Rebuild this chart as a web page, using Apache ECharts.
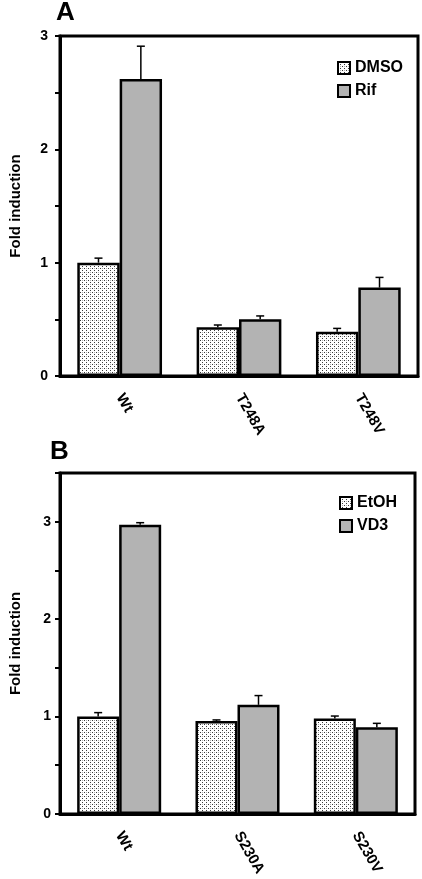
<!DOCTYPE html>
<html>
<head>
<meta charset="utf-8">
<script src="https://cdn.jsdelivr.net/npm/echarts@6/dist/echarts.min.js"></script>
<style>
html,body{margin:0;padding:0;background:#fff;}
#c{width:422px;height:879px;}
</style>
</head>
<body>
<div id="c"></div>
<script>
// ---- Data ----
const categoriesA = ['Wt', 'T248A', 'T248V'];
const dmsoA = [1.00, 0.43, 0.39];
const dmsoErrA = [0.04, 0.02, 0.03];
const rifA = [2.62, 0.50, 0.78];
const rifErrA = [0.29, 0.03, 0.09];

const categoriesB = ['Wt', 'S230A', 'S230V'];
const etohB = [1.00, 0.955, 0.98];
const etohErrB = [0.04, 0.01, 0.025];
const vd3B = [2.97, 1.12, 0.89];
const vd3ErrB = [0.02, 0.095, 0.04];

const yTicksA = [0, 1, 2, 3];
const yTicksB = [0, 1, 2, 3];

// ---- Styling helpers ----
const FONT = '"Liberation Sans", Arial, sans-serif';
const tile = document.createElement('canvas');
tile.width = 4; tile.height = 4;
const tctx = tile.getContext('2d');
tctx.fillStyle = '#ffffff'; tctx.fillRect(0, 0, 4, 4);
tctx.fillStyle = '#3a3a3a'; tctx.fillRect(0, 0, 1, 1); tctx.fillRect(2, 2, 1, 1);
tctx.fillStyle = '#b0b0b0'; tctx.fillRect(2, 0, 1, 1);
const dotted = { image: tile, repeat: 'repeat' };
const grayFill = '#b3b3b3';

function errRender(side) {
  return function (params, api) {
    const c = api.value(0), v = api.value(1), e = api.value(2);
    const band = api.size([1, 0])[0];
    const off = side * band * 0.1775;
    const p0 = api.coord([c, v]);
    const p1 = api.coord([c, v + e]);
    const x = p0[0] + off;
    return {
      type: 'group',
      children: [
        { type: 'line', shape: { x1: x, y1: p0[1], x2: x, y2: p1[1] }, style: { stroke: '#000', lineWidth: 1.5 } },
        { type: 'line', shape: { x1: x - 4, y1: p1[1], x2: x + 4, y2: p1[1] }, style: { stroke: '#000', lineWidth: 1.5 } }
      ]
    };
  };
}
function errData(vals, errs) { return vals.map((v, i) => [i, v, errs[i]]); }

function xAxis(cats, gi) {
  return {
    type: 'category', gridIndex: gi, data: cats,
    axisLine: { lineStyle: { color: '#000', width: 3 } },
    axisTick: { show: false },
    axisLabel: { rotate: -60, margin: 19, color: '#000', fontFamily: FONT, fontWeight: 'bold', fontSize: 15 }
  };
}
function yAxis(max, ticks, gi, margin) {
  return {
    type: 'value', gridIndex: gi, min: 0, max: max, interval: 0.5,
    name: 'Fold induction', nameLocation: 'middle', nameRotate: 90, nameGap: 37,
    nameTextStyle: { color: '#000', fontFamily: FONT, fontWeight: 'bold', fontSize: 15 },
    axisLine: { show: true, lineStyle: { color: '#000', width: 3 } },
    axisTick: { show: true, length: 5, lineStyle: { color: '#000', width: 2 } },
    splitLine: { show: false },
    axisLabel: {
      margin: margin, color: '#000', fontFamily: FONT, fontWeight: 'bold', fontSize: 14,
      formatter: v => (ticks.indexOf(v) >= 0 ? String(v) : '')
    }
  };
}
function barSeries(name, data, color, xi) {
  return {
    type: 'bar', name: name, xAxisIndex: xi, yAxisIndex: xi, data: data,
    barWidth: '35.5%', barGap: '0%',
    itemStyle: { color: color, borderColor: '#000', borderWidth: 2.5 }
  };
}
function errSeries(vals, errs, side, xi) {
  return {
    type: 'custom', xAxisIndex: xi, yAxisIndex: xi, z: 5,
    renderItem: errRender(side), data: errData(vals, errs), silent: true
  };
}
const legendText = { color: '#000', fontFamily: FONT, fontWeight: 'bold', fontSize: 16 };

const chart = echarts.init(document.getElementById('c'), null, { renderer: 'canvas' });
chart.setOption({
  backgroundColor: '#fff',
  animation: false,
  title: [
    { text: 'A', left: 56, top: 0, padding: 0, textStyle: { color: '#000', fontFamily: FONT, fontWeight: 'bold', fontSize: 26 } },
    { text: 'B', left: 50, top: 439, padding: 0, textStyle: { color: '#000', fontFamily: FONT, fontWeight: 'bold', fontSize: 26 } }
  ],
  legend: [
    { data: ['DMSO', 'Rif'], orient: 'vertical', left: 337, top: 60, itemGap: 7, itemWidth: 12, itemHeight: 12,
      icon: 'rect', itemStyle: { borderColor: '#000', borderWidth: 2 }, textStyle: legendText, padding: 0 },
    { data: ['EtOH', 'VD3'], orient: 'vertical', left: 339, top: 495, itemGap: 7, itemWidth: 12, itemHeight: 12,
      icon: 'rect', itemStyle: { borderColor: '#000', borderWidth: 2 }, textStyle: legendText, padding: 0 }
  ],
  grid: [
    { left: 55, right: 4, top: 36, height: 340, show: true, borderColor: '#000', borderWidth: 3 },
    { left: 52, right: 7, top: 473, height: 344, show: true, borderColor: '#000', borderWidth: 3 }
  ],
  xAxis: [xAxis(categoriesA, 0), xAxis(categoriesB, 1)],
  yAxis: [yAxis(3, yTicksA, 0, 12), yAxis(3.5, yTicksB, 1, 9)],
  series: [
    barSeries('DMSO', dmsoA, dotted, 0),
    barSeries('Rif', rifA, grayFill, 0),
    errSeries(dmsoA, dmsoErrA, -1, 0),
    errSeries(rifA, rifErrA, 1, 0),
    barSeries('EtOH', etohB, dotted, 1),
    barSeries('VD3', vd3B, grayFill, 1),
    errSeries(etohB, etohErrB, -1, 1),
    errSeries(vd3B, vd3ErrB, 1, 1)
  ]
});
</script>
</body>
</html>
